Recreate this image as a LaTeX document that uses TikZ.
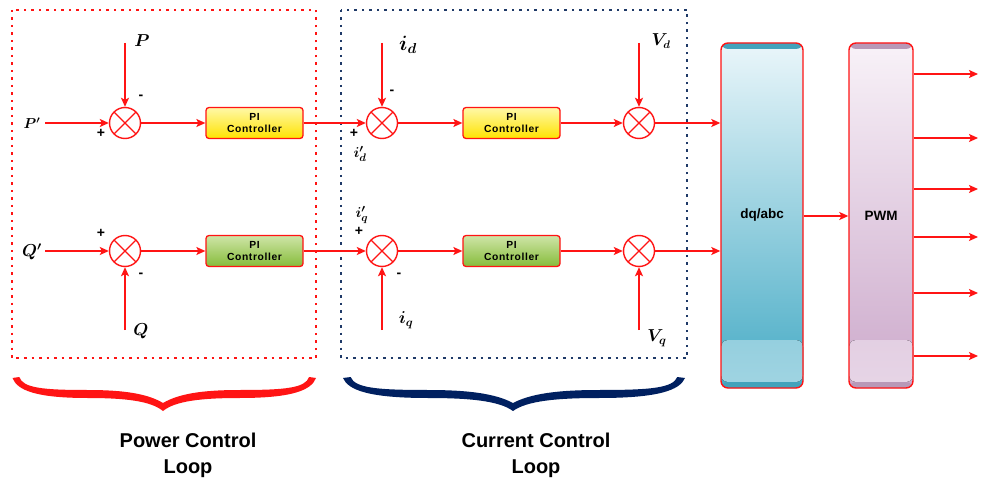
\documentclass[tikz,border=0pt]{standalone}
\usepackage{fontspec}
\setsansfont{Liberation Sans}
\newfontfamily\pifont[LetterSpace=6]{Liberation Sans}
\usepackage{amsmath,bm}
\usetikzlibrary{arrows.meta}
\definecolor{cred}{HTML}{FF1414}
\definecolor{navy}{HTML}{1F3A68}
\definecolor{bracenavy}{HTML}{002060}
\definecolor{yeltop}{HTML}{FFF8A8}
\definecolor{yelbot}{HTML}{FFE300}
\definecolor{grntop}{HTML}{CFE5A8}
\definecolor{grnbot}{HTML}{86BC3A}
\definecolor{dqtop}{HTML}{EAF6FA}
\definecolor{dqbot}{HTML}{46ABC5}
\definecolor{pwmtop}{HTML}{F8F2F8}
\definecolor{pwmbot}{HTML}{CCA9CB}
\newcommand\drawbrace[4]{%
  \fill[#4] (#1,378)
    .. controls ({#1+0.03*(#2-#1)},390) and ({#1+0.15*(#2-#1)},398) .. ({#1+0.5*(#2-#1)},398)
    .. controls ({#1+0.75*(#2-#1)},398) and ({#1+0.92*(#2-#1)},401) .. (#2,411)
    .. controls ({#2+0.08*(#3-#2)},401) and ({#2+0.25*(#3-#2)},398) .. ({#2+0.5*(#3-#2)},398)
    .. controls ({#2+0.85*(#3-#2)},398) and ({#2+0.97*(#3-#2)},390) .. (#3,378)
    -- ({#3-0.045*(#3-#2)},377)
    .. controls ({#2+0.93*(#3-#2)},388) and ({#2+0.8*(#3-#2)},390) .. ({#2+0.5*(#3-#2)},390)
    .. controls ({#2+0.25*(#3-#2)},390) and ({#2+0.1*(#3-#2)},394) .. (#2,403)
    .. controls ({#1+0.9*(#2-#1)},394) and ({#1+0.75*(#2-#1)},390) .. ({#1+0.5*(#2-#1)},390)
    .. controls ({#1+0.2*(#2-#1)},390) and ({#1+0.07*(#2-#1)},388) .. ({#1+0.045*(#2-#1)},377)
    -- cycle;}
\begin{document}
\begin{tikzpicture}[x=1pt,y=-1pt,
  line/.style={cred, line width=1.4pt},
  arr/.style={line, -{Stealth[length=9pt,width=8pt,inset=2pt]}},
  sumnode/.style={circle, draw=cred, line width=1.4pt, minimum size=31pt, inner sep=0pt, fill=white,
    path picture={\draw[cred, line width=1.4pt] (path picture bounding box.center) +(45:16pt) -- +(225:16pt) +(135:16pt) -- +(315:16pt);}},
  pibox/.style={draw=cred, line width=1.3pt, rounded corners=3pt, minimum width=97pt, minimum height=31pt,
    inner sep=0pt, align=center, font=\pifont\bfseries\fontsize{10.3}{11.8}\selectfont},
  yelbox/.style={pibox, top color=yeltop, bottom color=yelbot},
  grnbox/.style={pibox, top color=grntop, bottom color=grnbot},
  bigblock/.style={draw=cred, line width=1.4pt, rounded corners=7pt, minimum height=345pt, inner sep=0pt,
    font=\sffamily\bfseries\fontsize{13.5}{14}\selectfont},
  sign/.style={font=\sffamily\bfseries\fontsize{14}{14}\selectfont, inner sep=0pt},
  lbl/.style={inner sep=0pt},
  reddot/.style={cred, line width=1.5pt, dash pattern=on 2.5pt off 5pt},
  bluedot/.style={navy, line width=1.5pt, dash pattern=on 2.5pt off 5pt},
  caption/.style={font=\sffamily\bfseries\fontsize{20}{26}\selectfont, align=center, inner sep=0pt}
]
\useasboundingbox[fill=white] (0,0) rectangle (988,481);

% dotted loop frames
\draw[reddot] (12,10) rectangle (316,358);
\draw[bluedot] (341,10) rectangle (687,358);

% summing junctions
\node[sumnode] (s1d) at (125,123) {};
\node[sumnode] (s2d) at (382,123) {};
\node[sumnode] (s3d) at (639,123) {};
\node[sumnode] (s1q) at (125,251) {};
\node[sumnode] (s2q) at (382,251) {};
\node[sumnode] (s3q) at (639,251) {};

% PI controllers
\node[yelbox] (pi1d) at (254.5,123) {PI\\Controller};
\node[yelbox] (pi2d) at (511.5,123) {PI\\Controller};
\node[grnbox] (pi1q) at (254.5,251) {PI\\Controller};
\node[grnbox] (pi2q) at (511.5,251) {PI\\Controller};

% big blocks
\node[bigblock, minimum width=82pt, top color=dqtop, bottom color=dqbot,
  path picture={
    \fill[top color=dqbot!95!white, bottom color=dqtop!55!dqbot] ([yshift=48pt]path picture bounding box.south west) rectangle ([yshift=6pt]path picture bounding box.south east);
    \fill[dqbot!95!black] ([yshift=6pt]path picture bounding box.south west) rectangle (path picture bounding box.south east);
    \fill[dqbot!95!black] (path picture bounding box.north west) rectangle ([yshift=-6pt]path picture bounding box.north east);
  }] (dq) at (762,215.5) {dq/abc};
\node[bigblock, minimum width=64pt, top color=pwmtop, bottom color=pwmbot,
  path picture={
    \fill[top color=pwmbot!95!white, bottom color=pwmtop!60!pwmbot] ([yshift=48pt]path picture bounding box.south west) rectangle ([yshift=6pt]path picture bounding box.south east);
    \fill[pwmbot!90!black] ([yshift=6pt]path picture bounding box.south west) rectangle (path picture bounding box.south east);
    \fill[pwmbot!90!black] (path picture bounding box.north west) rectangle ([yshift=-6pt]path picture bounding box.north east);
  }] (pwm) at (881,215.5) {PWM};

% input labels
\node[lbl, font=\fontsize{14.5}{14.5}\selectfont] (lPr) at (32,123) {$\bm{P'}$};
\node[lbl, font=\fontsize{17}{17}\selectfont] (lP) at (142,41) {$\bm{P}$};
\node[lbl, font=\fontsize{16.5}{16.5}\selectfont] (lQr) at (32,252) {$\bm{Q'}$};
\node[lbl, font=\fontsize{17}{17}\selectfont] (lQ) at (141,331) {$\bm{Q}$};
\node[lbl, font=\fontsize{20}{20}\selectfont] (lid) at (408,45) {$\bm{i_d}$};
\node[lbl, font=\fontsize{16}{16}\selectfont] (lVd) at (661,41) {$\bm{V_d}$};
\node[lbl, font=\fontsize{15}{15}\selectfont] (lidr) at (360,154) {$\bm{i'_d}$};
\node[lbl, font=\fontsize{15.5}{15.5}\selectfont] (liqr) at (362,215) {$\bm{i'_q}$};
\node[lbl, font=\fontsize{16.5}{16.5}\selectfont] (liq) at (406,320) {$\bm{i_q}$};
\node[lbl, font=\fontsize{16.5}{16.5}\selectfont] (lVq) at (657,338) {$\bm{V_q}$};

% signs
\node[sign] at (101,133) {+};
\node[sign] at (141,97) {-};
\node[sign] at (101,233) {+};
\node[sign] at (141,275) {-};
\node[sign] at (354,133) {+};
\node[sign] at (392,92) {-};
\node[sign] at (359,231) {+};
\node[sign] at (399,275) {-};

% free ends of input lines
\coordinate (inPr) at (45,123);
\coordinate (inQr) at (45,251);
\coordinate (inP) at (125,43);
\coordinate (inQ) at (125,330);
\coordinate (inid) at (382,43);
\coordinate (iniq) at (382,330);
\coordinate (inVd) at (639,43);
\coordinate (inVq) at (639,330);
\coordinate (mid) at (0,216);

% d-axis row
\draw[arr] (inPr) -- (s1d.west);
\draw[arr] (inP) -- (s1d.north);
\draw[arr] (s1d.east) -- (pi1d.west);
\draw[arr] (pi1d.east) -- (s2d.west);
\draw[arr] (inid) -- (s2d.north);
\draw[arr] (s2d.east) -- (pi2d.west);
\draw[arr] (pi2d.east) -- (s3d.west);
\draw[arr] (inVd) -- (s3d.north);
\draw[arr] (s3d.east) -- (s3d.east -| dq.west);

% q-axis row
\draw[arr] (inQr) -- (s1q.west);
\draw[arr] (inQ) -- (s1q.south);
\draw[arr] (s1q.east) -- (pi1q.west);
\draw[arr] (pi1q.east) -- (s2q.west);
\draw[arr] (iniq) -- (s2q.south);
\draw[arr] (s2q.east) -- (pi2q.west);
\draw[arr] (pi2q.east) -- (s3q.west);
\draw[arr] (inVq) -- (s3q.south);
\draw[arr] (s3q.east) -- (s3q.east -| dq.west);

% dq/abc to PWM and outputs
\draw[arr] (dq.east |- mid) -- (pwm.west |- mid);
\foreach \yy [count=\k] in {74,138,189,237,293,356} {
  \coordinate (o\k) at (978,\yy);
  \draw[arr] (pwm.east |- o\k) -- (o\k);
}

% braces and captions
\drawbrace{12.5}{163}{316}{cred}
\drawbrace{343}{513}{685}{bracenavy}
\node[caption] (cap1) at (188,455) {Power Control\\Loop};
\node[caption] (cap2) at (536,455) {Current Control\\Loop};
\end{tikzpicture}
\end{document}
